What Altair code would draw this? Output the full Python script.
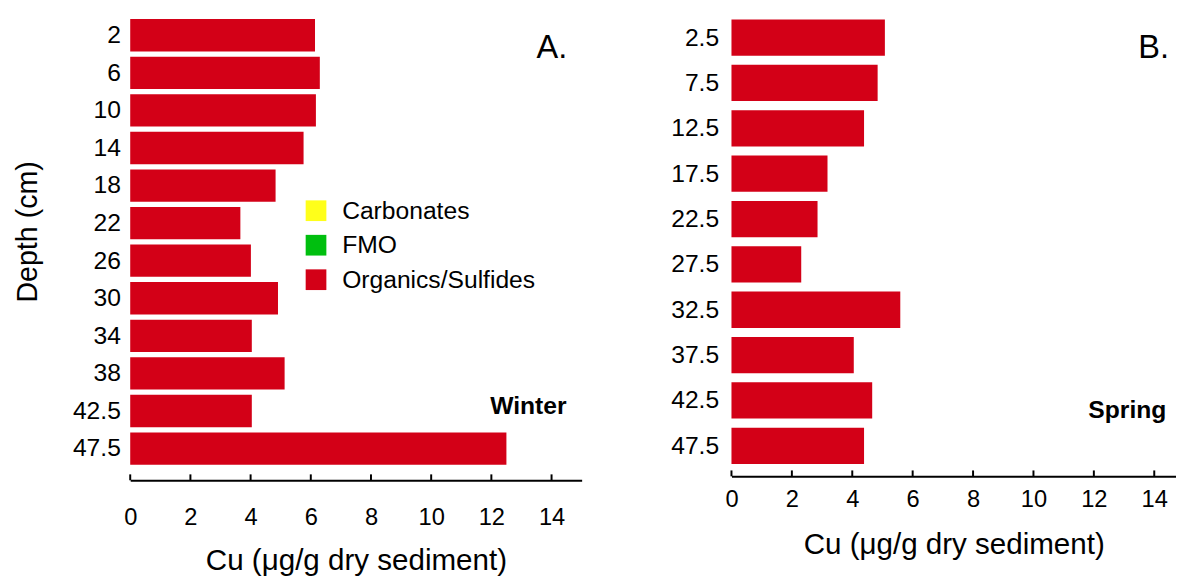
import altair as alt
import pandas as pd

# ---- data ----
winter_depth = ["2", "6", "10", "14", "18", "22", "26", "30", "34", "38", "42.5", "47.5"]
winter_cu = [6.14, 6.30, 6.17, 5.76, 4.83, 3.66, 4.01, 4.91, 4.04, 5.13, 4.04, 12.50]

spring_depth = ["2.5", "7.5", "12.5", "17.5", "22.5", "27.5", "32.5", "37.5", "42.5", "47.5"]
spring_cu = [5.08, 4.84, 4.39, 3.18, 2.85, 2.31, 5.59, 4.05, 4.66, 4.39]

fractions = ["Carbonates", "FMO", "Organics/Sulfides"]
fraction_colors = ["#FFFF1A", "#00BF0F", "#D30017"]
x_ticks = [0, 2, 4, 6, 8, 10, 12, 14]
panel_letters = ["A.", "B."]
season_labels = ["Winter", "Spring"]
x_title = "Cu (\u03bcg/g dry sediment)"
y_title = "Depth (cm)"

FONT = "Liberation Sans"


def make_panel(depths, cu, season, letter, width, height, xmax,
               pad_inner, pad_outer, align, y_label_pad, x_label_pad,
               x_title_pad, show_ytitle, legend, letter_x, season_x, season_y):
    df = pd.DataFrame({"depth": depths, "cu": cu,
                       "fraction": ["Organics/Sulfides"] * len(depths)})
    xscale = alt.Scale(domain=[0, xmax], nice=False, zero=True)
    xaxis = alt.Axis(values=x_ticks, title=x_title, labelFontSize=24,
                     labelPadding=x_label_pad, ticks=False, tickSize=0,
                     domainColor="black", domainWidth=2, grid=False,
                     titleFontSize=30, titlePadding=x_title_pad,
                     titleFontWeight="normal", labelColor="black",
                     titleColor="black", labelFont=FONT, titleFont=FONT,
                     labelFlush=False)

    yaxis_kw = dict(labelFontSize=25, labelPadding=y_label_pad, ticks=False,
                    tickSize=0, domain=False, labelColor="black", labelFont=FONT)
    if show_ytitle:
        yaxis_kw.update(title=y_title, titleFontSize=29, titlePadding=30,
                        titleY=222.5, titleFont=FONT, titleFontWeight="normal",
                        titleColor="black")
    else:
        yaxis_kw.update(title=None)

    bars = alt.Chart(df).mark_bar().encode(
        x=alt.X("cu:Q", scale=xscale, axis=xaxis),
        y=alt.Y("depth:N", sort=depths,
                scale=alt.Scale(paddingInner=pad_inner, paddingOuter=pad_outer,
                                align=align),
                axis=alt.Axis(**yaxis_kw)),
        color=alt.Color("fraction:N",
                        scale=alt.Scale(domain=fractions, range=fraction_colors),
                        legend=legend),
    )

    tick_marks = alt.Chart(pd.DataFrame({"cu": x_ticks})).mark_rule(
        color="black", strokeWidth=2
    ).encode(
        x=alt.X("cu:Q", scale=xscale, axis=xaxis),
        y=alt.value(height - 6),
        y2=alt.value(height),
    )

    letter_text = alt.Chart(pd.DataFrame({"s": [letter]})).mark_text(
        align="left", baseline="alphabetic", fontSize=33, color="black", font=FONT
    ).encode(x=alt.datum(letter_x), y=alt.value(47), text="s:N")

    season_text = alt.Chart(pd.DataFrame({"s": [season]})).mark_text(
        align="right", baseline="alphabetic", fontSize=25, fontWeight="bold",
        color="black", font=FONT
    ).encode(x=alt.datum(season_x), y=alt.value(season_y), text="s:N")

    return alt.layer(bars, tick_marks, letter_text, season_text).properties(
        width=width, height=height
    )


legend_left = alt.Legend(
    orient="none", legendX=176, legendY=189, title=None,
    symbolType="square", symbolSize=441, symbolStrokeWidth=0, symbolOpacity=1,
    labelFontSize=25, labelFont=FONT, labelColor="black", labelOffset=14,
    rowPadding=9, padding=0, labelLimit=400,
)

left = make_panel(winter_depth, winter_cu, season_labels[0], panel_letters[0],
                  width=458, height=475, xmax=15,
                  pad_inner=0.14, pad_outer=0.3, align=0.31,
                  y_label_pad=10, x_label_pad=26, x_title_pad=17,
                  show_ytitle=True, legend=legend_left,
                  letter_x=13.5, season_x=14.5, season_y=408)

right = make_panel(spring_depth, spring_cu, season_labels[1], panel_letters[1],
                   width=451, height=471, xmax=14.72,
                   pad_inner=0.2, pad_outer=0.218, align=0.373,
                   y_label_pad=13, x_label_pad=12, x_title_pad=18,
                   show_ytitle=False, legend=None,
                   letter_x=13.47, season_x=14.4, season_y=411.5)

chart = alt.hconcat(left, right, spacing=90).resolve_scale(
    color="independent"
).resolve_legend(color="independent").properties(
    padding={"left": 6, "top": 0, "right": 0, "bottom": 0}
).configure(font=FONT).configure_view(stroke=None)

chart.save("out.html", embed_options={"renderer": "svg", "actions": False})
